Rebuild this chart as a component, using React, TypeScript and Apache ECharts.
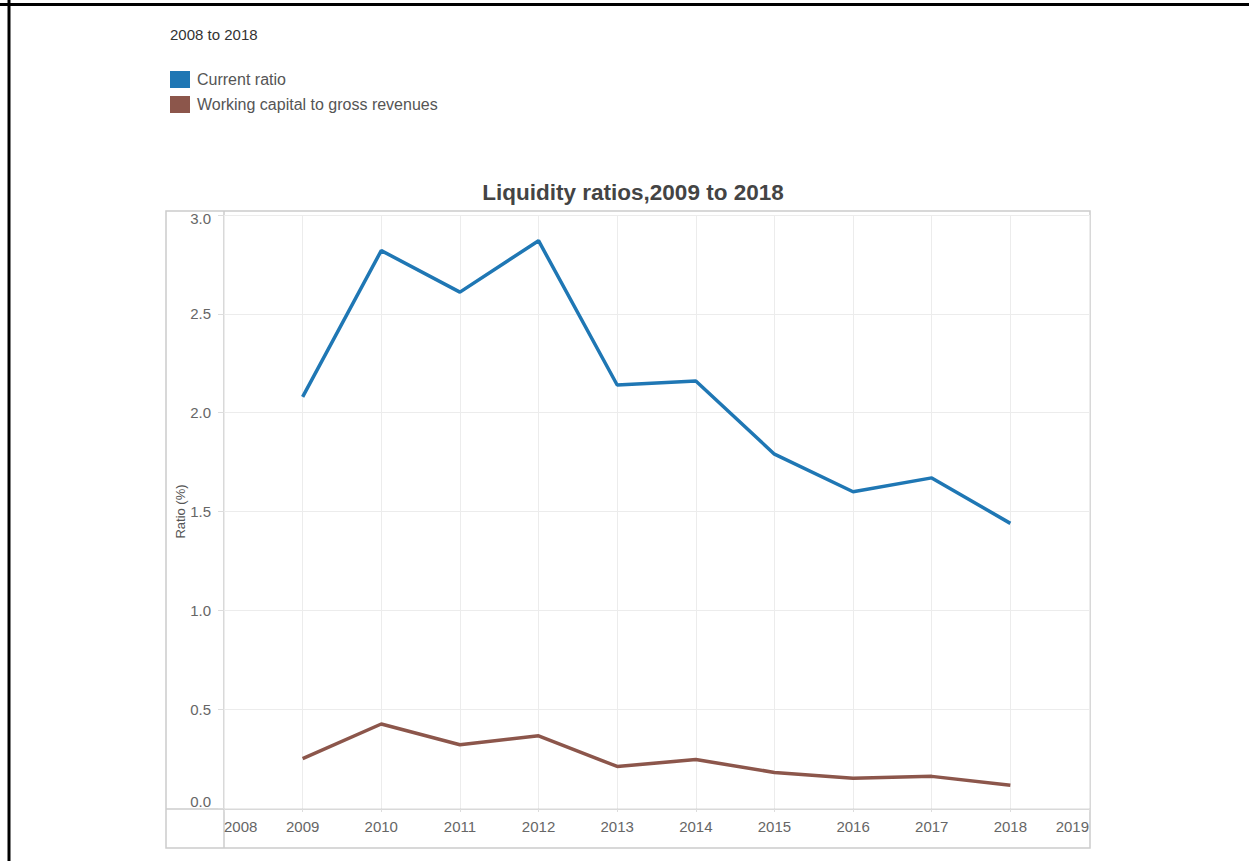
import React, { useEffect, useRef } from "react";
import * as echarts from "echarts";

const years = [2009, 2010, 2011, 2012, 2013, 2014, 2015, 2016, 2017, 2018];
const currentRatio = [2.08, 2.82, 2.61, 2.87, 2.14, 2.16, 1.79, 1.6, 1.67, 1.44];
const workingCapital = [0.25, 0.425, 0.32, 0.365, 0.21, 0.245, 0.18, 0.15, 0.16, 0.115];
const seriesNames = ["Current ratio", "Working capital to gross revenues"];
const colors = ["#1f77b4", "#8c564b"];
const titleText = "Liquidity ratios,2009 to 2018";
const subtitleText = "2008 to 2018";
const yAxisName = "Ratio (%)";

const FONT = "'Liberation Sans', Arial, Helvetica, sans-serif";

export default function App() {
  const ref = useRef<HTMLDivElement>(null);
  useEffect(() => {
    if (!ref.current) return;
    const chart = echarts.init(ref.current, undefined, { renderer: "svg" });
    const lineColor = "#cccccc";
    chart.setOption({
      animation: false,
      backgroundColor: "#ffffff",
      textStyle: { fontFamily: FONT },
      title: {
        text: titleText,
        left: 628,
        textAlign: "center",
        top: 176,
        textStyle: { fontSize: 22.5, fontWeight: "bold", color: "#444", fontFamily: FONT },
      },
      legend: {
        orient: "vertical",
        left: 165,
        top: 66,
        icon: "rect",
        itemWidth: 20,
        itemHeight: 17,
        itemGap: 8,
        itemStyle: { borderWidth: 0 },
        textStyle: { fontSize: 16, color: "#555", fontFamily: FONT, padding: [0, 0, 0, 2] },
        data: seriesNames,
      },
      grid: { left: 224, right: 160, top: 215, bottom: 53 },
      xAxis: {
        type: "value",
        min: 2008,
        max: 2019,
        interval: 1,
        axisLine: { show: false },
        axisTick: { show: true, length: 4, lineStyle: { color: "#dddddd" } },
        splitLine: { show: true, lineStyle: { color: "#ececec", width: 1 } },
        axisLabel: {
          fontSize: 15,
          color: "#666",
          margin: 11,
          fontFamily: FONT,
          alignMinLabel: "left",
          alignMaxLabel: "right",
          formatter: (v: number) => String(v),
        },
      },
      yAxis: {
        type: "value",
        min: 0,
        max: 3,
        interval: 0.5,
        name: yAxisName,
        nameLocation: "middle",
        nameGap: 37,
        nameMoveOverlap: false,
        nameTextStyle: { fontSize: 13, color: "#555", fontFamily: FONT },
        axisLine: { show: false },
        axisTick: { show: true, length: 6, lineStyle: { color: "#dddddd" } },
        splitLine: { show: true, lineStyle: { color: "#ececec", width: 1 } },
        axisLabel: {
          fontSize: 15,
          color: "#666",
          margin: 13,
          fontFamily: FONT,
          formatter: (v: number) => {
            const s = v.toFixed(1);
            if (v === 0) return "{lo|" + s + "}";
            if (v === 3) return "{hi|" + s + "}";
            return s;
          },
          rich: {
            lo: { fontSize: 15, color: "#666", padding: [0, 0, 14, 0], fontFamily: FONT },
            hi: { fontSize: 15, color: "#666", padding: [6, 0, 0, 0], fontFamily: FONT },
          },
        },
      },
      graphic: [
        {
          type: "text",
          left: 170,
          top: 27,
          style: { text: subtitleText, fontSize: 15, fill: "#333", fontFamily: FONT },
        },
        {
          type: "rect",
          shape: { x: 166, y: 211, width: 924, height: 637 },
          style: { fill: "none", stroke: lineColor, lineWidth: 1.5 },
          silent: true,
        },
        {
          type: "line",
          shape: { x1: 224, y1: 211, x2: 224, y2: 848 },
          style: { stroke: lineColor, lineWidth: 1.5 },
          silent: true,
        },
        {
          type: "line",
          shape: { x1: 166, y1: 809, x2: 1090, y2: 809 },
          style: { stroke: lineColor, lineWidth: 1.5 },
          silent: true,
        },
        {
          type: "line",
          shape: { x1: 0, y1: 4.5, x2: 1249, y2: 4.5 },
          style: { stroke: "#000", lineWidth: 3 },
          silent: true,
        },
        {
          type: "line",
          shape: { x1: 9, y1: 0, x2: 9, y2: 861 },
          style: { stroke: "#000", lineWidth: 3 },
          silent: true,
        },
      ],
      series: [
        {
          name: seriesNames[0],
          type: "line",
          data: years.map((y, i) => [y, currentRatio[i]]),
          showSymbol: false,
          symbol: "none",
          lineStyle: { color: colors[0], width: 3.5 },
          itemStyle: { color: colors[0] },
        },
        {
          name: seriesNames[1],
          type: "line",
          data: years.map((y, i) => [y, workingCapital[i]]),
          showSymbol: false,
          symbol: "none",
          lineStyle: { color: colors[1], width: 3.5 },
          itemStyle: { color: colors[1] },
        },
      ],
    });
    return () => chart.dispose();
  }, []);
  return (
    <div
      ref={ref}
      style={{ position: "absolute", left: 0, top: 0, width: 1249, height: 861 }}
    />
  );
}
